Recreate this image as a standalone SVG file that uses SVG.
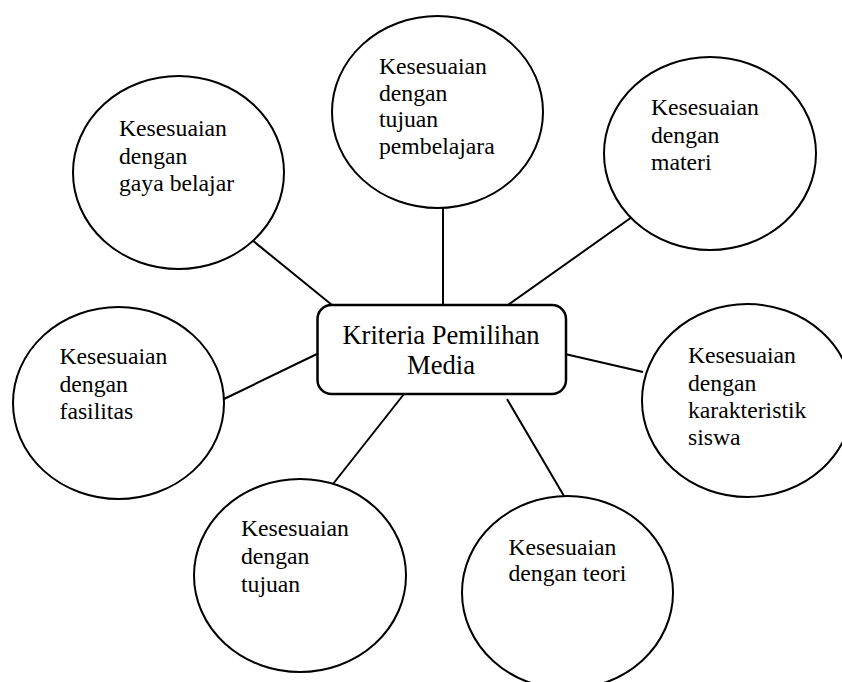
<svg xmlns="http://www.w3.org/2000/svg" width="842" height="682" viewBox="0 0 842 682">
<style>
.bubble{fill:#fff;stroke:#000;stroke-width:2}
.lbl{font-family:"Liberation Serif","Times New Roman",serif;font-size:23.7px;fill:#000}
.main{font-family:"Liberation Serif","Times New Roman",serif;font-size:26.6px;fill:#000;text-anchor:middle}
.conn{stroke:#000;stroke-width:2;fill:none}
</style>
<rect width="842" height="682" fill="#fff"/>
<g id="connectors">
<line class="conn" x1="252" y1="240" x2="332" y2="305"/>
<line class="conn" x1="443" y1="208" x2="443" y2="305"/>
<line class="conn" x1="632" y1="217" x2="508" y2="305"/>
<line class="conn" x1="224" y1="399" x2="317" y2="354"/>
<line class="conn" x1="565" y1="354" x2="643" y2="372"/>
<line class="conn" x1="404" y1="394" x2="333" y2="484"/>
<line class="conn" x1="507" y1="399" x2="564" y2="496"/>
</g>
<g id="center">
<rect x="317.5" y="305" width="248.5" height="89" rx="14" fill="#fff" stroke="#000" stroke-width="2.5"/>
<text class="main" x="441" y="344">Kriteria Pemilihan</text>
<text class="main" x="441" y="374">Media</text>
</g>
<g id="gaya-belajar">
<ellipse class="bubble" cx="178.5" cy="172.5" rx="105.5" ry="96.5"/>
<text class="lbl" x="119" y="136">Kesesuaian</text>
<text class="lbl" x="119" y="163.5">dengan</text>
<text class="lbl" x="119" y="191">gaya belajar</text>
</g>
<g id="tujuan-pembelajaran">
<ellipse class="bubble" cx="437.5" cy="112" rx="105.5" ry="96"/>
<text class="lbl" x="379" y="73.5">Kesesuaian</text>
<text class="lbl" x="379" y="100.5">dengan</text>
<text class="lbl" x="379" y="127">tujuan</text>
<text class="lbl" x="379" y="154">pembelajara</text>
</g>
<g id="materi">
<ellipse class="bubble" cx="710" cy="153.5" rx="106" ry="96.5"/>
<text class="lbl" x="651" y="115">Kesesuaian</text>
<text class="lbl" x="651" y="142.5">dengan</text>
<text class="lbl" x="651" y="170">materi</text>
</g>
<g id="fasilitas">
<ellipse class="bubble" cx="118.5" cy="403" rx="105.5" ry="96"/>
<text class="lbl" x="59.5" y="364">Kesesuaian</text>
<text class="lbl" x="59.5" y="391.5">dengan</text>
<text class="lbl" x="59.5" y="419">fasilitas</text>
</g>
<g id="karakteristik-siswa">
<ellipse class="bubble" cx="747.5" cy="400.5" rx="105.5" ry="96.5"/>
<text class="lbl" x="688" y="363">Kesesuaian</text>
<text class="lbl" x="688" y="390.5">dengan</text>
<text class="lbl" x="688" y="418">karakteristik</text>
<text class="lbl" x="688" y="445">siswa</text>
</g>
<g id="tujuan">
<ellipse class="bubble" cx="300" cy="575.5" rx="106" ry="96.5"/>
<text class="lbl" x="241" y="536">Kesesuaian</text>
<text class="lbl" x="241" y="564">dengan</text>
<text class="lbl" x="241" y="591.5">tujuan</text>
</g>
<g id="teori">
<ellipse class="bubble" cx="567.5" cy="592.5" rx="105.5" ry="96.5"/>
<text class="lbl" x="508.5" y="554.5">Kesesuaian</text>
<text class="lbl" x="508.5" y="581">dengan teori</text>
</g>
</svg>
